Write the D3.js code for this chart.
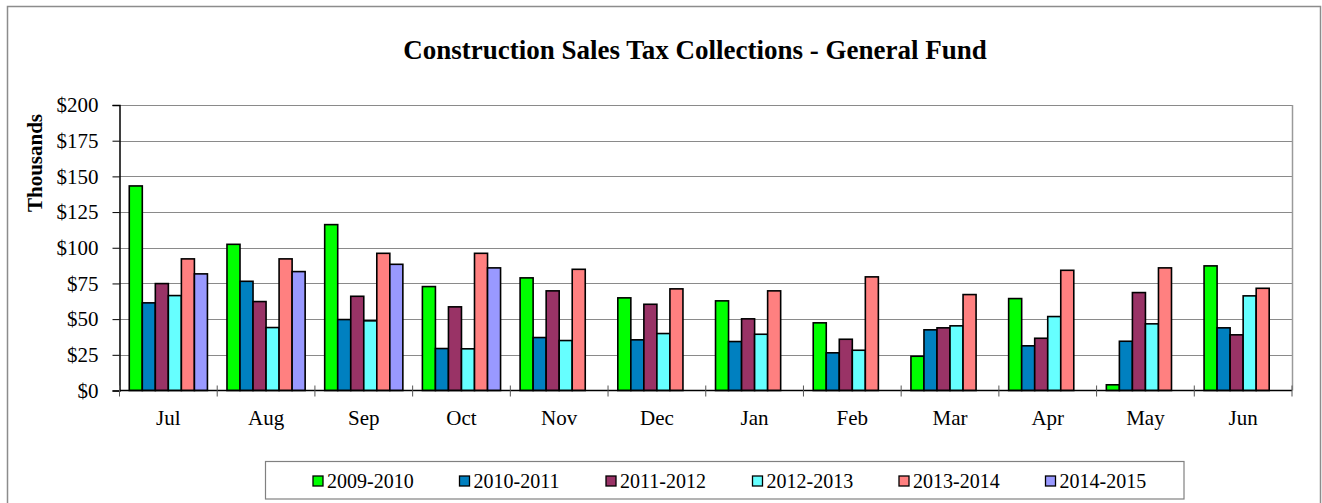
<!DOCTYPE html>
<html>
<head>
<meta charset="utf-8">
<script src="https://cdn.jsdelivr.net/npm/d3@7"></script>
<style>
  html, body { margin: 0; padding: 0; background: #fff; }
  svg { display: block; font-family: "Liberation Serif", "Times New Roman", serif; }
</style>
</head>
<body>
<svg id="chart" width="1322" height="503"></svg>
<script>
// months of the fiscal year
const months = ["Jul", "Aug", "Sep", "Oct", "Nov", "Dec", "Jan", "Feb", "Mar", "Apr", "May", "Jun"];
const seriesNames = ["2009-2010", "2010-2011", "2011-2012", "2012-2013", "2013-2014", "2014-2015"];
const seriesColors = ["#00ff00", "#0080c0", "#993366", "#66ffff", "#ff8080", "#9999ff"];

// values in thousands of dollars
const fy2009 = [143.3, 102.4, 116.2, 72.8, 78.9, 64.9, 62.8, 47.4, 24.0, 64.4, 4.0, 87.3];
const fy2010 = [61.4, 76.5, 49.7, 29.4, 37.1, 35.5, 34.3, 26.4, 42.5, 31.3, 34.5, 43.9];
const fy2011 = [74.9, 62.3, 66.0, 58.6, 69.8, 60.4, 50.2, 35.9, 43.9, 36.6, 68.6, 39.0];
const fy2012 = [66.5, 44.1, 48.8, 29.2, 35.0, 39.9, 39.4, 28.2, 45.3, 51.8, 46.7, 66.3];
const fy2013 = [92.2, 92.2, 96.1, 96.1, 84.9, 71.2, 69.8, 79.6, 67.2, 84.2, 85.9, 71.6];
const fy2014 = [81.7, 83.3, 88.4, 85.9, null, null, null, null, null, null, null, null];

const yTicks = [0, 25, 50, 75, 100, 125, 150, 175, 200];

const allSeries = [fy2009, fy2010, fy2011, fy2012, fy2013, fy2014];
const data = months.map((m, i) => {
    const row = { month: m };
    seriesNames.forEach((s, j) => { row[s] = allSeries[j][i]; });
    return row;
});

const svg = d3.select("#chart");

// outer chart frame
svg.append("rect")
    .attr("x", 7.5).attr("y", 6.5)
    .attr("width", 1313).attr("height", 520)
    .attr("fill", "#fff").attr("stroke", "#8c8c8c").attr("stroke-width", 1.5);

const plotLeft = 119.5, plotRight = 1292, plotTop = 105, plotBottom = 390.5;

const x0 = d3.scaleBand().domain(months).range([plotLeft, plotRight]).paddingInner(0).paddingOuter(0);
// gap width 150% between groups
const barW = x0.bandwidth() / (seriesNames.length + 1.5);
const x1 = d3.scaleBand().domain(seriesNames)
    .range([barW * 0.75, x0.bandwidth() - barW * 0.75]).padding(0);
const y = d3.scaleLinear().domain([0, 200]).range([plotBottom, plotTop]);
const color = d3.scaleOrdinal().domain(seriesNames).range(seriesColors);

// gridlines
svg.append("g")
    .selectAll("line")
    .data(yTicks.filter(d => d > 0))
    .join("line")
    .attr("x1", plotLeft).attr("x2", plotRight)
    .attr("y1", d => Math.round(y(d)) + 0.5).attr("y2", d => Math.round(y(d)) + 0.5)
    .attr("stroke", "#8a8a8a").attr("stroke-width", 1.2);

// right border of plot area
svg.append("line")
    .attr("x1", plotRight + 0.5).attr("x2", plotRight + 0.5)
    .attr("y1", plotTop).attr("y2", plotBottom)
    .attr("stroke", "#9a9a9a").attr("stroke-width", 1.5);

// bars
svg.append("g")
    .selectAll("g")
    .data(data)
    .join("g")
    .attr("transform", d => `translate(${x0(d.month)},0)`)
    .selectAll("rect")
    .data(d => seriesNames.map(key => ({ key, value: d[key] })).filter(d => d.value != null))
    .join("rect")
    .attr("x", d => x1(d.key))
    .attr("y", d => y(d.value))
    .attr("width", x1.bandwidth())
    .attr("height", d => y(0) - y(d.value))
    .attr("fill", d => color(d.key))
    .attr("stroke", "#000")
    .attr("stroke-width", 1.6);

// y axis
const yAxis = g => g
    .attr("transform", `translate(${plotLeft},0)`)
    .call(d3.axisLeft(y).tickValues(yTicks).tickFormat(d => "$" + d).tickSize(7).tickPadding(14))
    .call(g => g.select(".domain").attr("stroke", "#000").attr("stroke-width", 1.5))
    .call(g => g.selectAll(".tick line").attr("stroke", "#000"))
    .call(g => g.selectAll("text")
        .attr("font-family", "Liberation Serif, serif")
        .attr("font-size", 21).attr("fill", "#000"));
svg.append("g").call(yAxis);

// x axis with tick marks between categories
const xAxis = g => {
    g.append("line")
        .attr("x1", plotLeft).attr("x2", plotRight)
        .attr("y1", plotBottom).attr("y2", plotBottom)
        .attr("stroke", "#000").attr("stroke-width", 1.5);
    g.selectAll(".cat-tick")
        .data(months.concat(["end"]))
        .join("line")
        .attr("class", "cat-tick")
        .attr("x1", (d, i) => plotLeft + i * x0.step())
        .attr("x2", (d, i) => plotLeft + i * x0.step())
        .attr("y1", plotBottom - 5).attr("y2", plotBottom + 6)
        .attr("stroke", "#555").attr("stroke-width", 1);
    g.selectAll(".cat-label")
        .data(months)
        .join("text")
        .attr("class", "cat-label")
        .attr("x", d => x0(d) + x0.bandwidth() / 2)
        .attr("y", 425)
        .attr("text-anchor", "middle")
        .attr("font-size", 21)
        .text(d => d);
};
svg.append("g").call(xAxis);

// title
svg.append("text")
    .attr("x", 695).attr("y", 59)
    .attr("text-anchor", "middle")
    .attr("font-weight", "bold")
    .attr("font-size", 27)
    .text("Construction Sales Tax Collections - General Fund");

// y axis label
svg.append("text")
    .attr("transform", "translate(42,163) rotate(-90)")
    .attr("text-anchor", "middle")
    .attr("font-weight", "bold")
    .attr("font-size", 21)
    .text("Thousands");

// legend
const legend = g => {
    g.append("rect")
        .attr("x", 265.5).attr("y", 461.5)
        .attr("width", 918.5).attr("height", 37.5)
        .attr("fill", "#fff").attr("stroke", "#808080").attr("stroke-width", 1.2);
    const item = g.selectAll(".item")
        .data(seriesNames)
        .join("g")
        .attr("class", "item")
        .attr("transform", (d, i) => `translate(${313 + i * 146.5},481)`);
    item.append("rect")
        .attr("x", 0).attr("y", -5)
        .attr("width", 10).attr("height", 10)
        .attr("fill", d => color(d))
        .attr("stroke", "#000").attr("stroke-width", 1.3);
    item.append("text")
        .attr("x", 14).attr("y", 7)
        .attr("font-size", 20)
        .text(d => d);
};
svg.append("g").call(legend);
</script>
</body>
</html>
